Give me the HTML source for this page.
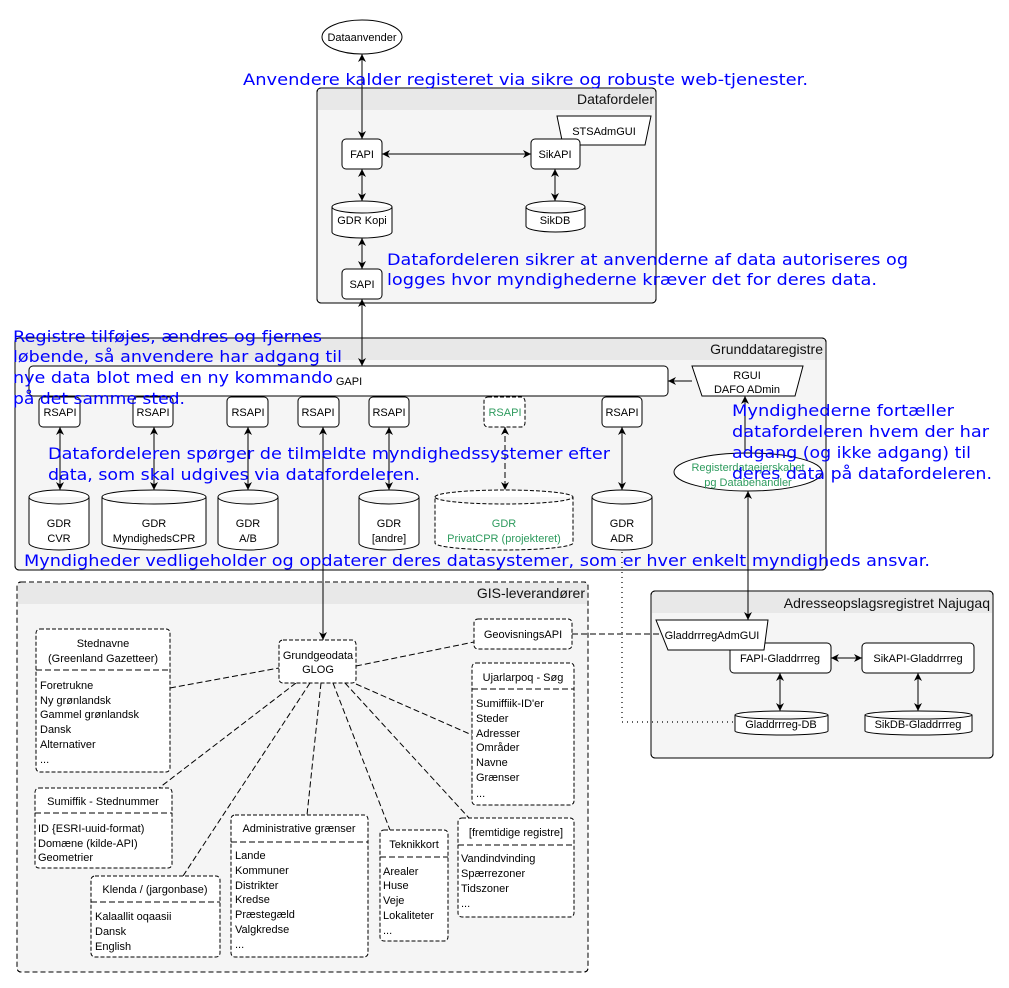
<!DOCTYPE html>
<html><head><meta charset="utf-8"><style>
html,body{margin:0;padding:0;background:#fff;}
svg{display:block;}
.l{font-family:"Liberation Sans",Arial,sans-serif;font-size:11px;fill:#000;}
.t{font-family:"Liberation Sans",Arial,sans-serif;font-size:14px;fill:#111;}
.g{font-family:"Liberation Sans",Arial,sans-serif;font-size:11px;fill:#2e9b5e;}
.b{font-family:"DejaVu Sans",sans-serif;font-size:16px;fill:#0000ff;}
.bx{fill:#fff;stroke:#000;stroke-width:1;}
.dx{fill:#fff;stroke:#000;stroke-width:1;stroke-dasharray:4 2;}
.ln{stroke:#000;stroke-width:1;fill:none;}
.dl{stroke:#000;stroke-width:1;fill:none;stroke-dasharray:6 3;}
</style></head><body>
<svg width="1009" height="988" viewBox="0 0 1009 988" xmlns="http://www.w3.org/2000/svg">
<defs>
<marker id="a" viewBox="0 0 10 10" refX="10" refY="5" markerWidth="8" markerHeight="8" orient="auto-start-reverse" markerUnits="userSpaceOnUse"><path d="M0 0 L10 5 L0 10 L3 5 z" fill="#000"/></marker>
</defs>

<rect x="317" y="88" width="339" height="215" rx="4" fill="#f5f5f5" stroke="#000"/>
<path d="M318 89 H655 V110 H318 Z" fill="#e8e8e8"/>
<rect x="317" y="88" width="339" height="215" rx="4" fill="none" stroke="#000"/>
<text class="t" x="654" y="104" text-anchor="end">Datafordeler</text>

<rect x="15" y="338" width="811" height="232" rx="4" fill="#f5f5f5" stroke="#000"/>
<path d="M16 339 H825 V360 H16 Z" fill="#e8e8e8"/>
<rect x="15" y="338" width="811" height="232" rx="4" fill="none" stroke="#000"/>
<text class="t" x="823" y="354" text-anchor="end">Grunddataregistre</text>

<rect x="17" y="582" width="571" height="390" rx="4" fill="#f5f5f5" stroke="#000" stroke-dasharray="5 3"/>
<path d="M18 583 H587 V604 H18 Z" fill="#e8e8e8"/>
<rect x="17" y="582" width="571" height="390" rx="4" fill="none" stroke="#000" stroke-dasharray="5 3"/>
<text class="t" x="585" y="598" text-anchor="end">GIS-leverandører</text>

<rect x="651" y="591" width="342" height="167" rx="4" fill="#f5f5f5" stroke="#000"/>
<path d="M652 592 H992 V613 H652 Z" fill="#e8e8e8"/>
<rect x="651" y="591" width="342" height="167" rx="4" fill="none" stroke="#000"/>
<text class="t" x="990" y="608" text-anchor="end">Adresseopslagsregistret Najugaq</text>

<ellipse cx="362" cy="37" rx="40" ry="17" class="bx"/>
<text class="l" x="362" y="41" text-anchor="middle">Dataanvender</text>
<line class="ln" x1="362" y1="54" x2="362" y2="139" marker-start="url(#a)" marker-end="url(#a)"/>

<rect x="342" y="139" width="40" height="30" rx="4" class="bx"/>
<text class="l" x="362" y="158" text-anchor="middle">FAPI</text>
<polygon points="557,116 651,116 645,145 563,145" class="bx"/>
<text class="l" x="604" y="135" text-anchor="middle">STSAdmGUI</text>
<rect x="531" y="139" width="49" height="30" rx="4" class="bx"/>
<text class="l" x="555" y="158" text-anchor="middle">SikAPI</text>
<line class="ln" x1="382" y1="154" x2="531" y2="154" marker-start="url(#a)" marker-end="url(#a)"/>
<path class="bx" d="M332 207 a30 6 0 0 1 60 0 a30 6 0 0 1 -60 0 v25 a30 6 0 0 0 60 0 v-25"/>
<text class="l" x="362" y="224" text-anchor="middle">GDR Kopi</text>
<path class="bx" d="M526 207 a29.5 6 0 0 1 59 0 a29.5 6 0 0 1 -59 0 v19 a29.5 6 0 0 0 59 0 v-19"/>
<text class="l" x="555" y="224" text-anchor="middle">SikDB</text>
<line class="ln" x1="362" y1="169" x2="362" y2="201" marker-start="url(#a)" marker-end="url(#a)"/>
<line class="ln" x1="555" y1="169" x2="555" y2="201" marker-start="url(#a)" marker-end="url(#a)"/>
<line class="ln" x1="362" y1="238" x2="362" y2="269" marker-start="url(#a)" marker-end="url(#a)"/>
<rect x="342" y="269" width="40" height="30" rx="4" class="bx"/>
<text class="l" x="362" y="288" text-anchor="middle">SAPI</text>
<line class="ln" x1="362" y1="299" x2="362" y2="366" marker-start="url(#a)" marker-end="url(#a)"/>

<rect x="29" y="366" width="639" height="30" rx="4" class="bx"/>
<text class="l" x="349" y="385" text-anchor="middle">GAPI</text>
<polygon points="692,366 803,366 795,396 702,396" class="bx"/>
<text class="l" x="747" y="379" text-anchor="middle">RGUI</text>
<text class="l" x="747" y="393" text-anchor="middle">DAFO ADmin</text>
<line class="ln" x1="692" y1="381" x2="668" y2="381" marker-end="url(#a)"/>

<rect x="39" y="397" width="41" height="30" rx="4" class="bx"/><text class="l" x="60" y="416" text-anchor="middle">RSAPI</text>
<rect x="133" y="397" width="40" height="30" rx="4" class="bx"/><text class="l" x="153" y="416" text-anchor="middle">RSAPI</text>
<rect x="227" y="397" width="41" height="30" rx="4" class="bx"/><text class="l" x="248" y="416" text-anchor="middle">RSAPI</text>
<rect x="298" y="397" width="41" height="30" rx="4" class="bx"/><text class="l" x="318" y="416" text-anchor="middle">RSAPI</text>
<rect x="369" y="397" width="40" height="30" rx="4" class="bx"/><text class="l" x="389" y="416" text-anchor="middle">RSAPI</text>
<rect x="484" y="397" width="41" height="30" rx="4" class="dx"/><text class="g" x="505" y="416" text-anchor="middle">RSAPI</text>
<rect x="602" y="397" width="40" height="30" rx="4" class="bx"/><text class="l" x="622" y="416" text-anchor="middle">RSAPI</text>

<line class="ln" x1="60" y1="427" x2="60" y2="490" marker-start="url(#a)" marker-end="url(#a)"/>
<line class="ln" x1="154" y1="427" x2="154" y2="490" marker-start="url(#a)" marker-end="url(#a)"/>
<line class="ln" x1="248" y1="427" x2="248" y2="490" marker-start="url(#a)" marker-end="url(#a)"/>
<line class="ln" x1="389" y1="427" x2="389" y2="490" marker-start="url(#a)" marker-end="url(#a)"/>
<line class="dl" x1="505" y1="427" x2="505" y2="490" marker-start="url(#a)" marker-end="url(#a)"/>
<line class="ln" x1="622" y1="427" x2="622" y2="490" marker-start="url(#a)" marker-end="url(#a)"/>
<line class="ln" x1="323" y1="427" x2="323" y2="640" marker-start="url(#a)" marker-end="url(#a)"/>

<path class="bx" d="M29 497 a30 7 0 0 1 60 0 a30 7 0 0 1 -60 0 v46 a30 7 0 0 0 60 0 v-46"/>
<text class="l" x="59" y="527" text-anchor="middle">GDR</text><text class="l" x="59" y="542" text-anchor="middle">CVR</text>
<path class="bx" d="M102 497 a52 7 0 0 1 104 0 a52 7 0 0 1 -104 0 v46 a52 7 0 0 0 104 0 v-46"/>
<text class="l" x="154" y="527" text-anchor="middle">GDR</text><text class="l" x="154" y="542" text-anchor="middle">MyndighedsCPR</text>
<path class="bx" d="M218 497 a30 7 0 0 1 60 0 a30 7 0 0 1 -60 0 v46 a30 7 0 0 0 60 0 v-46"/>
<text class="l" x="248" y="527" text-anchor="middle">GDR</text><text class="l" x="248" y="542" text-anchor="middle">A/B</text>
<path class="bx" d="M359 497 a30 7 0 0 1 60 0 a30 7 0 0 1 -60 0 v46 a30 7 0 0 0 60 0 v-46"/>
<text class="l" x="389" y="527" text-anchor="middle">GDR</text><text class="l" x="389" y="542" text-anchor="middle">[andre]</text>
<path class="dx" d="M435 497 a69 7 0 0 1 138 0 a69 7 0 0 1 -138 0 v46 a69 7 0 0 0 138 0 v-46"/>
<text class="g" x="504" y="527" text-anchor="middle">GDR</text><text class="g" x="504" y="542" text-anchor="middle">PrivatCPR (projekteret)</text>
<path class="bx" d="M592 497 a30 7 0 0 1 60 0 a30 7 0 0 1 -60 0 v46 a30 7 0 0 0 60 0 v-46"/>
<text class="l" x="622" y="527" text-anchor="middle">GDR</text><text class="l" x="622" y="542" text-anchor="middle">ADR</text>

<line class="ln" x1="745" y1="453" x2="745" y2="396" marker-end="url(#a)"/>
<ellipse cx="748" cy="472" rx="74" ry="19" class="bx"/>
<text class="g" x="748" y="471" text-anchor="middle">Registerdataejerskabet</text>
<text class="g" x="748" y="486" text-anchor="middle">pg Databehandler</text>
<line class="ln" x1="748" y1="491" x2="748" y2="620" marker-start="url(#a)" marker-end="url(#a)"/>

<path d="M622 552 V722 H733" fill="none" stroke="#000" stroke-width="1.2" stroke-dasharray="1 4"/>

<line class="dl" x1="572" y1="634" x2="662" y2="634"/>
<rect x="730" y="643" width="101" height="30" rx="4" class="bx"/>
<text class="l" x="780" y="662" text-anchor="middle">FAPI-Gladdrrreg</text>
<polygon points="656,620 768,620 764,650 668,650" class="bx"/>
<text class="l" x="712" y="639" text-anchor="middle">GladdrrregAdmGUI</text>
<rect x="862" y="643" width="112" height="30" rx="4" class="bx"/>
<text class="l" x="918" y="662" text-anchor="middle">SikAPI-Gladdrrreg</text>
<line class="ln" x1="831" y1="658" x2="862" y2="658" marker-start="url(#a)" marker-end="url(#a)"/>
<line class="ln" x1="780" y1="673" x2="780" y2="711" marker-start="url(#a)" marker-end="url(#a)"/>
<line class="ln" x1="918" y1="673" x2="918" y2="711" marker-start="url(#a)" marker-end="url(#a)"/>
<path class="bx" d="M735 715 a46.5 4 0 0 1 93 0 a46.5 4 0 0 1 -93 0 v16 a46.5 4 0 0 0 93 0 v-16"/>
<text class="l" x="781" y="728" text-anchor="middle">Gladdrrreg-DB</text>
<path class="bx" d="M865 715 a53.5 4 0 0 1 107 0 a53.5 4 0 0 1 -107 0 v16 a53.5 4 0 0 0 107 0 v-16"/>
<text class="l" x="918" y="728" text-anchor="middle">SikDB-Gladdrrreg</text>

<line class="dl" x1="170" y1="688" x2="279" y2="668"/>
<line class="dl" x1="356" y1="666" x2="474" y2="642"/>
<line class="dl" x1="356" y1="684" x2="472" y2="735"/>
<line class="dl" x1="296" y1="683" x2="159" y2="788"/>
<line class="dl" x1="310" y1="683" x2="183" y2="876"/>
<line class="dl" x1="321" y1="683" x2="307" y2="815"/>
<line class="dl" x1="333" y1="683" x2="390" y2="830"/>
<line class="dl" x1="345" y1="683" x2="469" y2="818"/>

<rect x="279" y="640" width="77" height="43" rx="4" class="dx"/>
<text class="l" x="318" y="659" text-anchor="middle">Grundgeodata</text>
<text class="l" x="318" y="673" text-anchor="middle">GLOG</text>
<rect x="474" y="619" width="98" height="30" rx="4" class="dx"/>
<text class="l" x="523" y="638" text-anchor="middle">GeovisningsAPI</text>

<rect x="36" y="629" width="134" height="143" rx="4" class="dx"/>
<line class="dl" x1="36" y1="670" x2="170" y2="670"/>
<text class="l" x="103" y="647" text-anchor="middle">Stednavne</text>
<text class="l" x="103" y="662" text-anchor="middle">(Greenland Gazetteer)</text>
<text class="l" x="40" y="689">Foretrukne</text><text class="l" x="40" y="704">Ny grønlandsk</text><text class="l" x="40" y="718">Gammel grønlandsk</text><text class="l" x="40" y="733">Dansk</text><text class="l" x="40" y="748">Alternativer</text><text class="l" x="40" y="763">...</text>

<rect x="35" y="788" width="137" height="80" rx="4" class="dx"/>
<line class="dl" x1="35" y1="813" x2="172" y2="813"/>
<text class="l" x="103" y="805" text-anchor="middle">Sumiffik - Stednummer</text>
<text class="l" x="38" y="832">ID {ESRI-uuid-format)</text><text class="l" x="38" y="847">Domæne (kilde-API)</text><text class="l" x="38" y="861">Geometrier</text>

<rect x="91" y="876" width="129" height="81" rx="4" class="dx"/>
<line class="dl" x1="91" y1="902" x2="220" y2="902"/>
<text class="l" x="155" y="893" text-anchor="middle">Klenda / (jargonbase)</text>
<text class="l" x="95" y="920">Kalaallit oqaasii</text><text class="l" x="95" y="935">Dansk</text><text class="l" x="95" y="950">English</text>

<rect x="231" y="815" width="137" height="142" rx="4" class="dx"/>
<line class="dl" x1="231" y1="842" x2="368" y2="842"/>
<text class="l" x="299" y="832" text-anchor="middle">Administrative grænser</text>
<text class="l" x="235" y="859">Lande</text><text class="l" x="235" y="874">Kommuner</text><text class="l" x="235" y="889">Distrikter</text><text class="l" x="235" y="903">Kredse</text><text class="l" x="235" y="918">Præstegæld</text><text class="l" x="235" y="933">Valgkredse</text><text class="l" x="235" y="948">...</text>

<rect x="380" y="830" width="68" height="111" rx="4" class="dx"/>
<line class="dl" x1="380" y1="857" x2="448" y2="857"/>
<text class="l" x="414" y="848" text-anchor="middle">Teknikkort</text>
<text class="l" x="383" y="875">Arealer</text><text class="l" x="383" y="889">Huse</text><text class="l" x="383" y="904">Veje</text><text class="l" x="383" y="919">Lokaliteter</text><text class="l" x="383" y="934">...</text>

<rect x="458" y="818" width="116" height="99" rx="4" class="dx"/>
<line class="dl" x1="458" y1="845" x2="574" y2="845"/>
<text class="l" x="516" y="836" text-anchor="middle">[fremtidige registre]</text>
<text class="l" x="461" y="862">Vandindvinding</text><text class="l" x="461" y="877">Spærrezoner</text><text class="l" x="461" y="892">Tidszoner</text><text class="l" x="461" y="907">...</text>

<rect x="472" y="663" width="102" height="142" rx="4" class="dx"/>
<line class="dl" x1="472" y1="689" x2="574" y2="689"/>
<text class="l" x="523" y="681" text-anchor="middle">Ujarlarpoq - Søg</text>
<text class="l" x="476" y="707">Sumiffiik-ID'er</text><text class="l" x="476" y="722">Steder</text><text class="l" x="476" y="737">Adresser</text><text class="l" x="476" y="751">Områder</text><text class="l" x="476" y="766">Navne</text><text class="l" x="476" y="781">Grænser</text><text class="l" x="476" y="797">...</text>

<text class="b" x="243" y="85" textLength="565" lengthAdjust="spacingAndGlyphs">Anvendere kalder registeret via sikre og robuste web-tjenester.</text>
<text class="b" x="387" y="265" textLength="521" lengthAdjust="spacingAndGlyphs">Datafordeleren sikrer at anvenderne af data autoriseres og</text>
<text class="b" x="387" y="285" textLength="490" lengthAdjust="spacingAndGlyphs">logges hvor myndighederne kræver det for deres data.</text>
<text class="b" x="13" y="342" textLength="309" lengthAdjust="spacingAndGlyphs">Registre tilføjes, ændres og fjernes</text>
<text class="b" x="13" y="362" textLength="329" lengthAdjust="spacingAndGlyphs">løbende, så anvendere har adgang til</text>
<text class="b" x="13" y="383" textLength="320" lengthAdjust="spacingAndGlyphs">nye data blot med en ny kommando</text>
<text class="b" x="13" y="404" textLength="172" lengthAdjust="spacingAndGlyphs">på det samme sted.</text>
<text class="b" x="48" y="459" textLength="562" lengthAdjust="spacingAndGlyphs">Datafordeleren spørger de tilmeldte myndighedssystemer efter</text>
<text class="b" x="48" y="480" textLength="372" lengthAdjust="spacingAndGlyphs">data, som skal udgives via datafordeleren.</text>
<text class="b" x="732" y="416" textLength="222" lengthAdjust="spacingAndGlyphs">Myndighederne fortæller</text>
<text class="b" x="732" y="437" textLength="257" lengthAdjust="spacingAndGlyphs">datafordeleren hvem der har</text>
<text class="b" x="732" y="458" textLength="239" lengthAdjust="spacingAndGlyphs">adgang (og ikke adgang) til</text>
<text class="b" x="732" y="479" textLength="260" lengthAdjust="spacingAndGlyphs">deres data på datafordeleren.</text>
<text class="b" x="24" y="566" textLength="906" lengthAdjust="spacingAndGlyphs">Myndigheder vedligeholder og opdaterer deres datasystemer, som er hver enkelt myndigheds ansvar.</text>
</svg>
</body></html>
